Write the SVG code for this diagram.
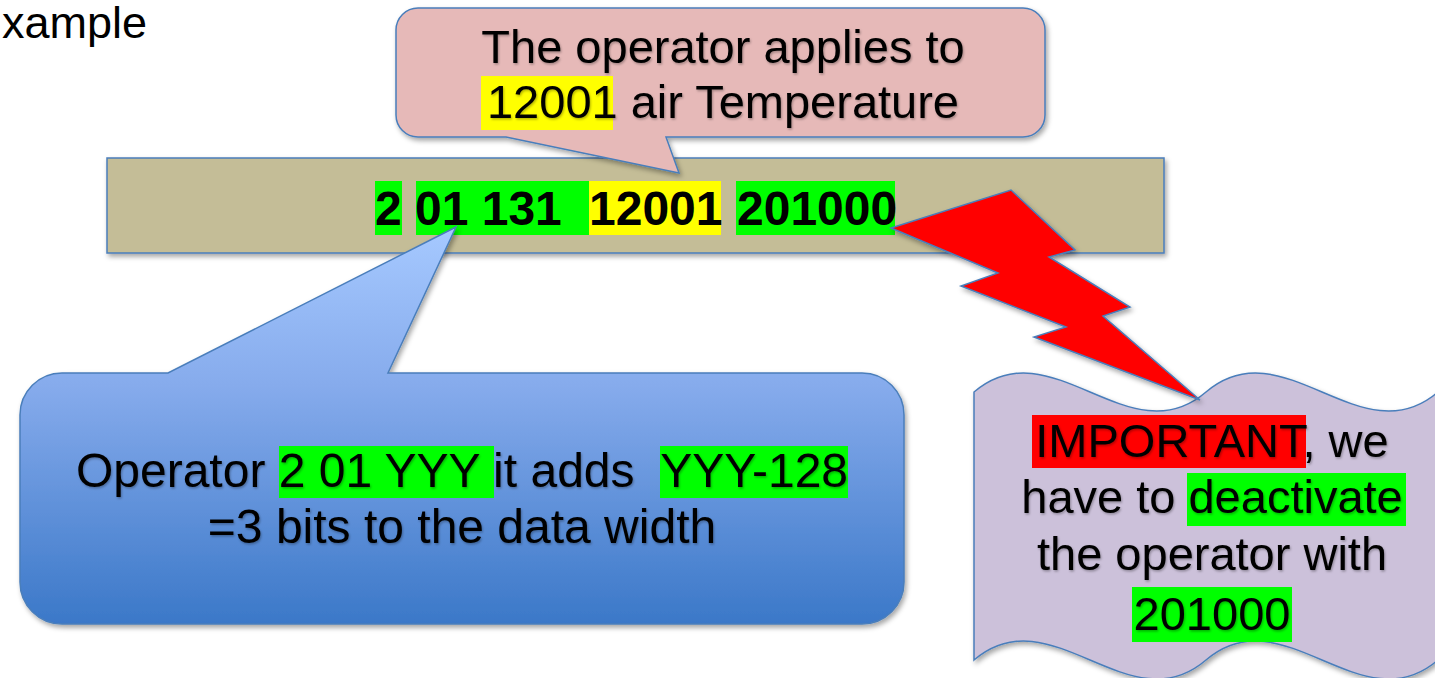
<svg xmlns="http://www.w3.org/2000/svg" width="1435" height="678" viewBox="0 0 1435 678">
<style>
.t{font-family:"Liberation Sans",Arial,sans-serif;font-size:47px;fill:#000}
.ts{filter:url(#tsh)}
.b{font-family:"Liberation Sans",Arial,sans-serif;font-size:48px;font-weight:bold;fill:#000}
.hg{fill:#00ff00}
.hy{fill:#ffff00}
.hr{fill:#ff0000}
.sh{filter:url(#ds)}
.edge{stroke:#4a7ebb;stroke-width:1.5}
</style>
<defs>
<filter id="ds" x="-10%" y="-10%" width="130%" height="140%">
<feDropShadow dx="2" dy="3" stdDeviation="2.5" flood-color="#000" flood-opacity="0.35"/>
</filter>
<filter id="tsh" x="-5%" y="-20%" width="110%" height="150%">
<feDropShadow dx="1" dy="1.5" stdDeviation="1" flood-color="#000" flood-opacity="0.3"/>
</filter>
<linearGradient id="bg" x1="0" y1="0" x2="0" y2="1">
<stop offset="0" stop-color="#a6c9ff"/>
<stop offset="0.4" stop-color="#86abec"/>
<stop offset="1" stop-color="#3b78c8"/>
</linearGradient>
</defs>

<text class="t" x="2" y="38" style="font-size:45px">xample</text>

<g id="bar">
<rect class="sh edge" x="107" y="158" width="1057" height="95" fill="#c4bd97"/>
<rect class="hg" x="375" y="181" width="27" height="54"/>
<rect class="hg" x="416" y="181" width="173" height="54"/>
<rect class="hy" x="589" y="181" width="132" height="54"/>
<rect class="hg" x="736" y="181" width="159" height="54"/>
<text class="b" x="375" y="225">2</text>
<text class="b" x="415" y="225">01 131</text>
<text class="b" x="589" y="225">12001</text>
<text class="b" x="737" y="225">201000</text>
</g>

<g id="pink-callout">
<path class="sh edge" fill="#e6b9b8" d="M418,8 H1023 A22,22 0 0 1 1045,30 V115 A22,22 0 0 1 1023,137 H666 L679,173 L506,137 H418 A22,22 0 0 1 396,115 V30 A22,22 0 0 1 418,8 Z"/>
<rect class="hy" x="481" y="76" width="132" height="54"/>
<g class="ts">
<text class="t" x="723" y="63" text-anchor="middle">The operator applies to</text>
<text class="t" x="723" y="118" text-anchor="middle">12001 air Temperature</text>
</g>
</g>

<g id="blue-callout">
<path class="sh edge" fill="url(#bg)" d="M62,373 H168 L456,227 L388,373 H862 A42,42 0 0 1 904,415 V582 A42,42 0 0 1 862,624 H62 A42,42 0 0 1 20,582 V415 A42,42 0 0 1 62,373 Z"/>
<rect class="hg" x="279" y="446" width="215" height="52"/>
<rect class="hg" x="660" y="446" width="188" height="52"/>
<g class="ts">
<text class="t" x="462" y="487" text-anchor="middle" xml:space="preserve" style="font-size:48px">Operator 2 01 YYY it adds  YYY-128</text>
<text class="t" x="462" y="543" text-anchor="middle" style="font-size:48px">=3 bits to the data width</text>
</g>
</g>

<g id="wave-note">
<path class="sh edge" fill="#ccc1da" d="M974,392 C1051,326 1129,458 1206,392 C1283,326 1361,458 1438,392 L1438,660 C1361,726 1283,594 1206,660 C1129,726 1051,594 974,660 Z"/>
<rect class="hr" x="1032" y="415" width="274" height="53"/>
<rect class="hg" x="1187" y="473" width="219" height="53"/>
<rect class="hg" x="1132" y="587" width="160" height="55"/>
<g class="ts">
<text class="t" x="1212" y="457" text-anchor="middle">IMPORTANT, we</text>
<text class="t" x="1212" y="513" text-anchor="middle">have to deactivate</text>
<text class="t" x="1212" y="570" text-anchor="middle">the operator with</text>
<text class="t" x="1212" y="630" text-anchor="middle">201000</text>
</g>
</g>

<g id="connectors">
<path class="sh edge" fill="#ff0000" d="M891,228 L1011,190 L1075,250 L1049,257 L1130,307 L1103,316 L1200,400 L1034,337 L1066,327 L961,286 L998,273 Z"/>
</g>
</svg>
